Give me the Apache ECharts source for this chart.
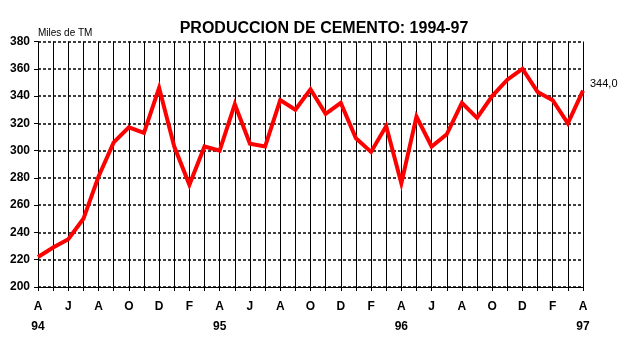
<!DOCTYPE html>
<html>
<head>
<meta charset="utf-8">
<script src="https://cdn.jsdelivr.net/npm/echarts@6/dist/echarts.min.js"></script>
<style>html,body{margin:0;padding:0;background:#fff}#c{width:631px;height:341px}</style>
</head>
<body>
<div id="c"></div>
<script>
// Months from April 1994 to April 1997 (Spanish initials)
const months = ["A","M","J","J","A","S","O","N","D","E","F","M",
                "A","M","J","J","A","S","O","N","D","E","F","M",
                "A","M","J","J","A","S","O","N","D","E","F","M","A"];
const years = {0:"94", 12:"95", 24:"96", 36:"97"};
const production = [222,229,235,250,281,306,317,313,346,303,275,303,
                    300,334,305,303,337,330,345,327,335,309,299,318,
                    276,325,303,312,335,324,340,352,360,343,337,320,344.0];
const yTicks = {min:200, max:380, interval:20};

const categories = months.map((m,i)=>i);
const chart = echarts.init(document.getElementById('c'));
chart.setOption({
  animation:false,
  backgroundColor:'#fff',
  title:{text:'PRODUCCION DE CEMENTO: 1994-97', left:319, top:16, textAlign:'center',
    textStyle:{fontFamily:'Arial', fontWeight:'bold', fontSize:16, color:'#000'}},
  graphic:[{type:'text', left:38, top:28, style:{text:'Miles de TM', font:'10px Arial', fill:'#000'}}],
  grid:{left:38, right:48, top:41.5, bottom:54, containLabel:false},
  xAxis:{type:'category', data:categories, boundaryGap:false,
    axisLine:{lineStyle:{color:'#000', width:1}},
    axisTick:{show:true, interval:0, length:4, lineStyle:{color:'#000'}},
    splitLine:{show:true, interval:0, lineStyle:{color:'#000', width:1, type:'solid'}},
    axisLabel:{interval:1, margin:10, color:'#000', fontFamily:'Arial', fontWeight:'bold', fontSize:12, lineHeight:20,
      formatter:(v)=>{const i=+v; return years[i]!==undefined? months[i]+'\n'+years[i] : months[i];}}
  },
  yAxis:{type:'value', min:yTicks.min, max:yTicks.max, interval:yTicks.interval,
    axisLine:{show:true, lineStyle:{color:'#000'}},
    axisTick:{show:true, length:4, lineStyle:{color:'#000'}},
    splitLine:{show:true, lineStyle:{color:'#000', width:1.5, type:[3,2]}},
    axisLabel:{margin:8, color:'#000', fontFamily:'Arial', fontWeight:'bold', fontSize:12}
  },
  series:[{type:'line', data:production, symbol:'none', smooth:false,
    lineStyle:{color:'#ff0000', width:4, join:'miter'},
    label:{show:false},
    markPoint:{symbol:'circle', symbolSize:0,
      data:[{coord:[36, production[36]], value:production[36]}],
      label:{show:true, position:'right', offset:[2,-7], color:'#000', fontFamily:'Arial', fontSize:11,
        formatter:(p)=>p.value.toFixed(1).replace('.',',')}}
  }]
});
</script>
</body>
</html>
